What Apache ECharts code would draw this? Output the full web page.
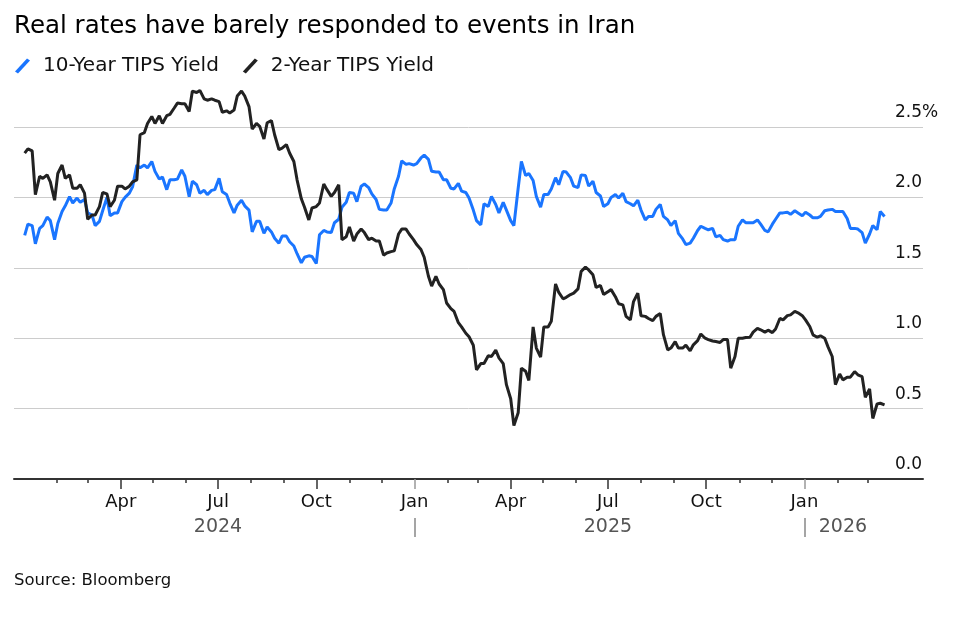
<!DOCTYPE html>
<html>
<head>
<meta charset="utf-8">
<title>Real rates have barely responded to events in Iran</title>
<script src="https://cdn.jsdelivr.net/npm/echarts@6/dist/echarts.min.js"></script>
<style>
html, body { margin: 0; padding: 0; background: #fff; }
#chart { width: 959px; height: 620px; }
</style>
</head>
<body>
<div id="chart"></div>
<script>
// yields, twice a week (Tue / Fri) from 2 Jan 2024
var tips10 = [
	1.73,1.81,1.80,1.67,1.78,1.80,1.86,1.835,1.70,1.815,
	1.90,1.94,2.005,1.96,1.995,1.965,1.985,1.89,1.875,1.80,
	1.83,1.905,2.0,1.87,1.89,1.89,1.97,2.0,2.03,2.075,
	2.23,2.21,2.23,2.21,2.255,2.185,2.13,2.145,2.055,2.125,
	2.125,2.13,2.195,2.15,2.005,2.115,2.09,2.03,2.05,2.02,
	2.05,2.055,2.135,2.04,2.02,1.96,1.89,1.945,1.98,1.94,
	1.91,1.755,1.83,1.83,1.745,1.79,1.755,1.71,1.675,1.725,
	1.725,1.685,1.655,1.60,1.535,1.575,1.585,1.58,1.53,1.735,
	1.765,1.755,
	1.75,1.82,1.845,1.93,1.965,2.035,2.03,1.97,2.08,2.095,
	2.07,2.025,1.985,1.915,1.91,1.91,1.96,2.06,2.15,2.26,
	2.235,2.24,2.23,2.24,2.28,2.30,2.27,2.185,2.18,2.18,
	2.125,2.125,2.065,2.06,2.10,2.045,2.035,1.995,1.91,1.835,
	1.805,1.955,1.935,2.007,1.95,1.89,1.965,1.91,1.835,1.80,
	2.065,2.255,2.155,2.17,2.12,2.007,1.93,2.02,2.02,2.06,
	2.14,2.09,2.185,2.18,2.14,2.08,2.07,2.16,2.155,2.08,
	2.115,2.035,2.01,1.935,1.955,2.0,2.02,1.995,
	2.03,1.97,1.955,1.94,1.98,1.91,1.84,1.865,1.865,1.915,
	1.95,1.865,1.84,1.80,1.835,1.745,1.705,1.665,1.675,1.71,
	1.765,1.795,1.78,1.77,1.78,1.72,1.73,1.70,1.69,1.70,
	1.70,1.795,1.84,1.82,1.82,1.82,1.84,1.81,1.765,1.755,
	1.81,1.845,1.89,1.89,1.895,1.88,1.905,1.89,1.87,1.895,
	1.875,1.855,1.855,1.865,1.905,1.91,1.915,1.90,1.90,1.90,
	1.85,1.78,1.78,1.775,1.75,1.675,1.74,1.80,1.77,1.90,
	1.865
];

var tips2 = [
	2.315,2.345,2.33,2.02,2.15,2.135,2.16,2.11,1.98,2.17,
	2.23,2.135,2.16,2.065,2.065,2.09,2.03,1.845,1.875,1.875,
	1.935,2.035,2.025,1.935,1.98,2.08,2.08,2.06,2.08,2.11,
	2.125,2.445,2.46,2.525,2.575,2.525,2.58,2.525,2.58,2.59,
	2.635,2.67,2.665,2.665,2.61,2.755,2.745,2.76,2.70,2.69,
	2.70,2.69,2.68,2.605,2.615,2.60,2.62,2.72,2.755,2.72,
	2.645,2.485,2.525,2.505,2.415,2.53,2.545,2.445,2.34,2.35,
	2.375,2.315,2.255,2.125,1.99,1.93,1.84,1.925,1.935,1.96,
	2.095,2.055,
	2.007,2.035,2.09,1.70,1.72,1.79,1.69,1.74,1.775,1.75,
	1.70,1.71,1.69,1.69,1.59,1.605,1.615,1.62,1.74,1.775,
	1.775,1.74,1.70,1.665,1.63,1.575,1.44,1.37,1.44,1.385,
	1.345,1.25,1.21,1.19,1.11,1.08,1.035,1.01,0.95,0.775,
	0.82,0.82,0.875,0.87,0.915,0.86,0.82,0.67,0.57,0.38,
	0.47,0.787,0.765,0.70,1.08,0.93,0.865,1.08,1.08,1.12,
	1.385,1.325,1.28,1.29,1.31,1.32,1.35,1.475,1.505,1.485,
	1.45,1.36,1.375,1.31,1.33,1.345,1.295,1.245,
	1.237,1.155,1.13,1.26,1.32,1.16,1.155,1.14,1.125,1.155,
	1.175,1.025,0.917,0.93,0.976,0.93,0.93,0.95,0.91,0.953,
	0.983,1.03,1.0,0.99,0.98,0.976,0.97,0.99,0.99,0.787,
	0.87,1.0,1.0,1.005,1.007,1.043,1.07,1.06,1.043,1.057,
	1.04,1.065,1.14,1.13,1.16,1.166,1.19,1.18,1.16,1.13,
	1.083,1.024,1.007,1.017,1.0,0.94,0.87,0.67,0.746,0.704,
	0.723,0.723,0.763,0.74,0.727,0.58,0.64,0.43,0.533,0.538,
	0.526
];

var monthNames = ['Jan','Feb','Mar','Apr','May','Jun','Jul','Aug','Sep','Oct','Nov','Dec'];
var yearLabels = { '2024-07-01': '2024', '2025-07-01': '2025', '2026-02-06': '2026' };
var yTicks = [0, 0.5, 1, 1.5, 2, 2.5];

var DAY = 86400000;
var FONT = 'DejaVu Sans';
var BLUE = '#1a75ff';
var BLACK = '#222222';

function ymd(t) {
	return new Date(t).toISOString().slice(0, 10);
}

// observation dates: Tuesday and Friday of each week
var obsDates = tips10.map(function(v, j) {
	var week = Math.floor(j / 2);
	return ymd(Date.UTC(2024, 0, 2) + (week * 7 + (j % 2) * 3) * DAY);
});
var firstObs = obsDates[0];
var lastObs = obsDates[obsDates.length - 1];

// one category per calendar day, a little wider than the data
var days = [];
for (var t = Date.UTC(2023, 11, 23); t <= Date.UTC(2026, 3, 22); t += DAY) {
	days.push(ymd(t));
}

function monthStart(months) {
	return function(idx, v) {
		if (v.slice(8) !== '01' || v < firstObs || v > lastObs) return false;
		return months.indexOf(+v.slice(5, 7)) >= 0;
	};
}

function pairs(values) {
	return values.map(function(v, j) { return [obsDates[j], v]; });
}

var slash = 'path://M0,13 L12,0 L15,2 L3,15 Z';

var baseX = {
	type: 'category',
	data: days,
	boundaryGap: false,
	position: 'bottom',
	axisLine: { show: false },
	axisLabel: { show: false },
	splitLine: { show: false }
};

function xAxisWith(extra) {
	return Object.assign({}, baseX, extra);
}

var option = {
	animation: false,
	textStyle: { fontFamily: FONT },
	title: [
		{
			text: 'Real rates have barely responded to events in Iran',
			left: 14,
			top: 14,
			padding: 0,
			textStyle: { fontFamily: FONT, fontSize: 24.5, fontWeight: 'normal', color: '#000' }
		},
		{
			text: 'Source: Bloomberg',
			left: 14,
			top: 572,
			padding: 0,
			textStyle: { fontFamily: FONT, fontSize: 16.5, fontWeight: 'normal', color: '#111' }
		}
	],
	legend: {
		left: 15,
		top: 56,
		padding: 0,
		itemWidth: 17,
		itemHeight: 15,
		itemGap: 24,
		textStyle: { fontFamily: FONT, fontSize: 20, color: '#111', padding: [0, 0, 0, 7] },
		data: [
			{ name: '10-Year TIPS Yield', icon: slash },
			{ name: '2-Year TIPS Yield', icon: slash }
		]
	},
	grid: { left: 14, right: 36, top: 127, bottom: 141 },
	xAxis: [
		xAxisWith({
			axisLine: { show: true, lineStyle: { color: '#333', width: 2 } },
			axisTick: { show: true, interval: monthStart([2, 3, 5, 6, 8, 9, 11, 12]), length: 4,
				lineStyle: { color: '#333', width: 1.5 } }
		}),
		xAxisWith({
			axisTick: { show: true, interval: monthStart([4, 7, 10]), length: 10,
				lineStyle: { color: '#333', width: 1.5 } },
			axisLabel: {
				show: true,
				interval: monthStart([1, 4, 7, 10]),
				formatter: function(v) { return monthNames[+v.slice(5, 7) - 1]; },
				margin: 14,
				fontSize: 18,
				color: '#111',
				fontFamily: FONT
			}
		}),
		xAxisWith({
			axisTick: { show: true, interval: monthStart([1]), length: 10,
				lineStyle: { color: '#999', width: 1.5 } },
			axisLabel: {
				show: true,
				interval: function(idx, v) { return yearLabels[v] !== undefined; },
				formatter: function(v) { return yearLabels[v]; },
				margin: 39,
				fontSize: 19,
				color: '#555',
				fontFamily: FONT
			}
		}),
		xAxisWith({
			offset: 39,
			axisTick: { show: true, interval: monthStart([1]), length: 19,
				lineStyle: { color: '#888', width: 1.5 } }
		})
	],
	yAxis: {
		type: 'value',
		position: 'right',
		min: yTicks[0],
		max: yTicks[yTicks.length - 1],
		interval: 0.5,
		axisLine: { show: false },
		axisTick: { show: false },
		splitLine: { lineStyle: { color: '#cccccc', width: 1 } },
		axisLabel: {
			inside: true,
			align: 'left',
			verticalAlign: 'bottom',
			margin: 28,
			padding: [0, 0, 6, 0],
			fontSize: 17,
			color: '#111',
			fontFamily: FONT,
			formatter: function(v) {
				return v === 2.5 ? '2.5%' : v.toFixed(1);
			}
		}
	},
	series: [
		{
			name: '10-Year TIPS Yield',
			type: 'line',
			data: pairs(tips10),
			symbol: 'none',
			clip: false,
			z: 2,
			itemStyle: { color: BLUE },
			lineStyle: { color: BLUE, width: 3 }
		},
		{
			name: '2-Year TIPS Yield',
			type: 'line',
			data: pairs(tips2),
			symbol: 'none',
			clip: false,
			z: 3,
			itemStyle: { color: BLACK },
			lineStyle: { color: BLACK, width: 3 }
		}
	]
};

var myChart = echarts.init(document.getElementById('chart'));
myChart.setOption(option);
</script>
</body>
</html>
